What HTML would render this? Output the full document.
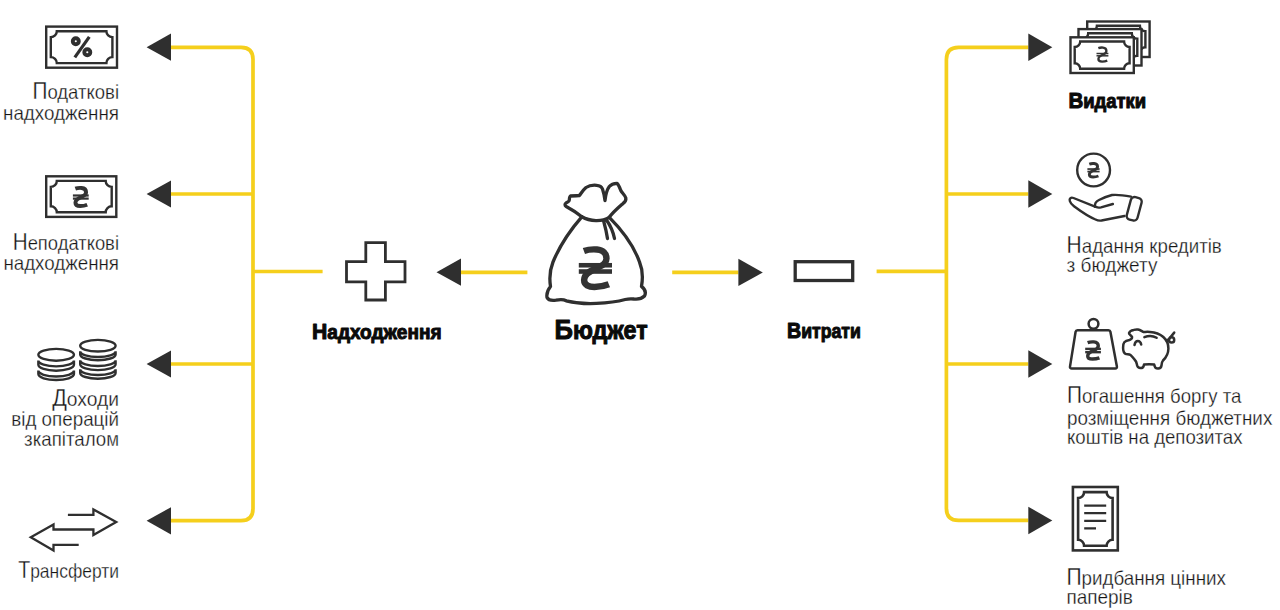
<!DOCTYPE html>
<html><head><meta charset="utf-8">
<style>
html,body{margin:0;padding:0;background:#fff;width:1280px;height:610px;overflow:hidden}
svg{display:block}
.t{font-family:"Liberation Sans",sans-serif;font-size:21px;fill:#141414;stroke:#fff;stroke-width:0.3}
.b{font-family:"Liberation Sans",sans-serif;font-weight:700;fill:#0a0a0a;stroke:#0a0a0a;stroke-width:1.0;paint-order:stroke;stroke-linejoin:round}
</style></head><body>
<svg width="1280" height="610" viewBox="0 0 1280 610">
<g fill="none" stroke="#f5cf1c" stroke-width="3.7">
<path d="M171,47.3 H241 Q253,47.3 253,59.3 V508.5 Q253,520.7 241,520.7 H171"/>
<path d="M171,194 H253 M171,364 H253 M253,271.5 H322.6"/>
<path d="M461,272.3 H527.4 M672.2,272.3 H738.4"/>
<path d="M1028.3,47.3 H958.5 Q946.4,47.3 946.4,59.5 V508.2 Q946.4,520.4 958.6,520.4 H1028.3"/>
<path d="M946.4,194 H1028.3 M946.4,364 H1028.3 M876.6,271.3 H946.4"/>
</g>
<g fill="#2f2f2f"><path d="M146.6,47.2 L171,33.6 L171,60.800000000000004 Z"/><path d="M146.6,194 L171,180.4 L171,207.6 Z"/><path d="M146.6,364 L171,350.4 L171,377.6 Z"/><path d="M146.6,520.8 L171,507.19999999999993 L171,534.4 Z"/><path d="M436.5,272.2 L461,258.59999999999997 L461,285.8 Z"/><path d="M762.8,272.4 L738.4,258.79999999999995 L738.4,286.0 Z"/><path d="M1052.3,47.3 L1028.3,33.5 L1028.3,61.099999999999994 Z"/><path d="M1052.3,194 L1028.3,180.2 L1028.3,207.8 Z"/><path d="M1052.3,364 L1028.3,350.2 L1028.3,377.8 Z"/><path d="M1052.3,520.5 L1028.3,506.7 L1028.3,534.3 Z"/></g>
<g fill="none" stroke="#2f2f2f" stroke-width="2.4"><rect x="46.2" y="26.6" width="70.8" height="41.1"/>
<path fill="none" d="M56.8,31.2 H106.4 A6,6 0 0 0 112.4,37.2 V57.1 A6,6 0 0 0 106.4,63.1 H56.8 A6,6 0 0 0 50.8,57.1 V37.2 A6,6 0 0 0 56.8,31.2 Z"/>
<rect x="46.2" y="176.3" width="70.1" height="40.6"/>
<path fill="none" d="M56.8,180.9 H105.7 A6,6 0 0 0 111.7,186.9 V206.3 A6,6 0 0 0 105.7,212.3 H56.8 A6,6 0 0 0 50.8,206.3 V186.9 A6,6 0 0 0 56.8,180.9 Z"/>
</g>
<g fill="none" stroke="#2f2f2f" stroke-width="3.9">
<circle cx="75.8" cy="41.3" r="3.0"/>
<circle cx="87.3" cy="52.3" r="3.0"/>
<path d="M89.3,36.8 L74.8,57.4" stroke-width="3.2"/>
</g>
<path fill="none" stroke="#333" stroke-width="3.9" d="M75.33,188.67 C77.28,187.95 79.66,187.81 81.56,187.95 C84.42,188.19 86.08,189.88 86.08,192.29 C86.08,194.46 83.94,195.91 81.56,196.87 C78.22,198.32 75.43,199.77 75.43,202.68 C75.43,205.09 77.64,206.00 80.33,206.00 C82.70,206.00 85.22,205.49 87.20,204.69"/><rect fill="#333" x="72.90" y="194.40" width="15.80" height="2.20"/><rect fill="#333" x="72.90" y="197.50" width="15.80" height="2.20"/><g fill="none" stroke="#2f2f2f" stroke-width="2.4"><ellipse cx="56.15" cy="354.8" rx="17.8" ry="5.9"/><path d="M38.35,360.5 A17.8,5.9 0 0 0 73.95,360.5 M38.35,364.8 A17.8,5.9 0 0 0 73.95,364.8 M38.35,360.5 V364.8 M73.95,360.5 V364.8"/><path d="M38.35,370.6 A17.8,5.9 0 0 0 73.95,370.6 M38.35,374.1 A17.8,5.9 0 0 0 73.95,374.1 M38.35,370.6 V374.1 M73.95,370.6 V374.1"/><ellipse cx="97.9" cy="345.7" rx="17.7" ry="5.8"/><path d="M80.20,351.2 A17.7,5.8 0 0 0 115.60,351.2 M80.20,354.4 A17.7,5.8 0 0 0 115.60,354.4 M80.20,351.2 V354.4 M115.60,351.2 V354.4"/><path d="M80.20,360.2 A17.7,5.8 0 0 0 115.60,360.2 M80.20,364.3 A17.7,5.8 0 0 0 115.60,364.3 M80.20,360.2 V364.3 M115.60,360.2 V364.3"/><path d="M80.20,369.2 A17.7,5.8 0 0 0 115.60,369.2 M80.20,372.9 A17.7,5.8 0 0 0 115.60,372.9 M80.20,369.2 V372.9 M115.60,369.2 V372.9"/></g>
<path fill="none" stroke="#2f2f2f" stroke-width="2.3" stroke-linejoin="miter" d="M78.7,544.9 H53.5 V550.4 L30.8,537.2 L53.5,524.5 V529.5 H93.4 V535 L116.2,522 L93.4,509.4 V514.8 H67.9"/>
<path fill="none" stroke="#2f2f2f" stroke-width="2.8" d="M365.8,242.6 H385.4 V261.7 H405 V281.9 H385.4 V300 H365.8 V281.9 H346.5 V261.7 H365.8 Z"/>
<rect x="795.2" y="261.7" width="57.5" height="18.8" fill="none" stroke="#2f2f2f" stroke-width="3.3"/>
<g fill="none" stroke="#2f2f2f" stroke-width="3.3" stroke-linejoin="round" stroke-linecap="round">
<path d="M581.8,216.8 C577,213 570,208.5 566.2,206.5 C564.5,205.5 564.8,203.8 566,203 C568,202 569.2,201.5 569.3,200 C569.4,198.5 569.5,196.5 570.5,196 C573,195.7 577,195.8 579.2,195.7 C581,193.5 583,190 586,187.5 C589,185.5 593,185 596.5,185.3 C599.5,185.5 601.5,186.5 602.5,189 C603.5,192 604.5,196.5 605,200.5 C605.5,196 607,189.5 609.3,186.5 C611,184.5 614,183.5 617,183.4 C618.5,184.5 619.5,187 620.8,190.5 C622,193 625,195 625.8,198 C626.2,200 625,202 623.1,203.4 C619,207 613,212 609.3,217.3"/>
<path d="M581.8,216.8 C590,221.5 602,222 609.3,217.3"/>
<path d="M603.5,220.5 C605,226 606.5,232 607.5,238.5 M606.5,220 C610,225 613,231 614.5,238.5"/>
<path d="M581.8,216.8 C572,228 560,245 553,262 C549,272 549.5,280 550.5,286.5 C548,289.5 546.3,293 547,297.5 C548.5,300.5 552,300.8 556,300.2 C559,299.5 563,299 566.2,300.8 C575,303 588,303.8 596.4,303.4 C606,303 618,301.5 625.2,299.5 C628,298.8 631,298.6 634,299 C638,299.4 642,298.5 644.5,296 C646,293 645.5,289.5 641.5,286.4 C643,278 642,268 639.5,262 C636,252 628,236 609.3,217.3"/>
</g>
<path fill="none" stroke="#333" stroke-width="6.4" d="M583.91,251.00 C588.00,249.49 593.01,249.20 596.99,249.49 C603.00,249.99 606.49,253.50 606.49,258.50 C606.49,263.00 602.01,266.01 596.99,268.01 C589.99,271.01 584.11,274.01 584.11,280.06 C584.11,285.06 588.76,286.94 594.40,286.94 C599.38,286.94 604.70,285.90 608.85,284.23"/><rect fill="#333" x="578.80" y="262.96" width="33.20" height="4.59"/><rect fill="#333" x="578.80" y="269.22" width="33.20" height="4.59"/><g fill="#fff" stroke="#2f2f2f" stroke-width="2.4">
<rect x="1087.2" y="21.5" width="62.4" height="35.5"/>
<path fill="none" d="M1096.9,25.7 H1139.9 A5.5,5.5 0 0 0 1145.4,31.2 V47.3 A5.5,5.5 0 0 0 1139.9,52.8 H1096.9 A5.5,5.5 0 0 0 1091.4,47.3 V31.2 A5.5,5.5 0 0 0 1096.9,25.7 Z"/>
<rect x="1078.5" y="29.1" width="63.0" height="36.4"/>
<path fill="none" d="M1088.2,33.3 H1131.8 A5.5,5.5 0 0 0 1137.3,38.8 V55.8 A5.5,5.5 0 0 0 1131.8,61.3 H1088.2 A5.5,5.5 0 0 0 1082.7,55.8 V38.8 A5.5,5.5 0 0 0 1088.2,33.3 Z"/>
<rect x="1070.5" y="37.3" width="63.3" height="35.7"/>
<path fill="none" d="M1080.2,41.5 H1124.1 A5.5,5.5 0 0 0 1129.6,47.0 V63.3 A5.5,5.5 0 0 0 1124.1,68.8 H1080.2 A5.5,5.5 0 0 0 1074.7,63.3 V47.0 A5.5,5.5 0 0 0 1080.2,41.5 Z"/>
</g>
<path fill="none" stroke="#333" stroke-width="2.3" d="M1098.33,48.12 C1099.80,47.55 1101.59,47.44 1103.02,47.55 C1105.18,47.74 1106.42,49.06 1106.42,50.94 C1106.42,52.64 1104.82,53.77 1103.02,54.52 C1100.51,55.65 1098.40,56.78 1098.40,59.06 C1098.40,60.94 1100.07,61.65 1102.09,61.65 C1103.88,61.65 1105.78,61.26 1107.27,60.63"/><rect fill="#333" x="1096.50" y="52.76" width="11.90" height="1.50"/><rect fill="#333" x="1096.50" y="55.06" width="11.90" height="1.50"/><g fill="none" stroke="#2f2f2f" stroke-width="2.4" stroke-linejoin="round" stroke-linecap="round">
<circle cx="1093.6" cy="170" r="16.4"/>
<path d="M1095,206.7 L1073.5,198 C1071,197 1069,198.5 1069.8,201 C1070.5,203.5 1072,204.8 1074,206.3 C1081,211.5 1089,217 1095.5,219.5 C1097.5,220.5 1099.5,220.8 1101.5,220.5 L1124.5,216"/>
<path d="M1095,206.7 C1094.5,203.5 1096,201.5 1099,200 C1103,198 1108,196 1112,195 C1118,194.5 1125,195.5 1131,196.6"/>
<path d="M1096,206.9 C1097.5,207.7 1099,207.8 1101,207.3 L1112.9,204"/>
<rect x="-5.55" y="-11.6" width="11.1" height="23.2" rx="3.8" transform="translate(1134.2,208.8) rotate(15)"/>
</g>
<path fill="none" stroke="#333" stroke-width="2.9" d="M1089.28,164.04 C1090.78,163.50 1092.62,163.40 1094.09,163.50 C1096.29,163.69 1097.57,164.94 1097.57,166.75 C1097.57,168.37 1095.93,169.44 1094.09,170.16 C1091.51,171.25 1089.35,172.32 1089.35,174.50 C1089.35,176.30 1091.06,176.97 1093.13,176.97 C1094.96,176.97 1096.92,176.60 1098.44,176.00"/><rect fill="#333" x="1087.40" y="168.20" width="12.20" height="1.70"/><rect fill="#333" x="1087.40" y="170.70" width="12.20" height="1.70"/><g fill="none" stroke="#2f2f2f" stroke-width="2.5" stroke-linejoin="round">
<circle cx="1093.5" cy="323.8" r="4.9"/>
<path d="M1077.5,330.2 H1108.5 C1109.5,330.2 1110.2,330.8 1110.4,331.8 L1116.9,366.6 C1117.1,367.8 1116.5,368.6 1115.3,368.6 H1071.7 C1070.5,368.6 1069.8,367.8 1070,366.6 L1075.6,331.8 C1075.8,330.8 1076.5,330.2 1077.5,330.2 Z"/>
</g>
<path fill="none" stroke="#333" stroke-width="3.4" d="M1087.62,342.57 C1089.55,341.88 1091.92,341.75 1093.80,341.88 C1096.65,342.11 1098.29,343.71 1098.29,346.01 C1098.29,348.07 1096.17,349.44 1093.80,350.36 C1090.49,351.74 1087.71,353.11 1087.71,355.88 C1087.71,358.17 1089.91,359.03 1092.58,359.03 C1094.93,359.03 1097.45,358.55 1099.41,357.79"/><rect fill="#333" x="1085.20" y="347.68" width="15.70" height="2.40"/><rect fill="#333" x="1085.20" y="350.98" width="15.70" height="2.40"/><g fill="none" stroke="#2f2f2f" stroke-width="2.5" stroke-linejoin="round" stroke-linecap="round">
<path d="M1133.7,329.9 C1131.5,330.3 1129.5,331.3 1129,333.1 C1128.8,334.5 1131.5,335.5 1132,336.8 C1132.3,338.2 1131,339.5 1129.5,340 C1127.5,340.3 1125.5,340.9 1124.3,342.3 C1123,343.8 1123.1,346 1123.1,348 C1123.1,350.5 1123.4,352.8 1125.5,353.8 C1127,354.5 1129,354 1130.5,355 C1132,356 1133,357.8 1134.5,359.5 C1135.8,360.8 1136.5,362 1136.8,364 C1137,366 1137.5,368 1140,368.1 C1142,368.2 1143.5,367.6 1143.8,365.5 L1144,364.6 C1147.5,364.2 1151,364.2 1154.2,364.6 L1154.8,366.5 C1155.2,368.2 1156.5,368.6 1158.2,368.5 C1160.5,368.4 1161.2,367.5 1161.5,365.5 C1161.7,363.5 1161.8,361.8 1163,360.5 C1166,357.5 1168.4,353 1168.4,348.4 C1168.4,339.5 1161,332.5 1150,331.9 C1147.5,331.8 1145,331.9 1143.2,331.9 C1141.5,331 1140,329.8 1138,329.5 C1136.5,329.3 1135,329.5 1133.7,329.9 Z"/>
<path d="M1144.4,337.2 C1148,335.6 1153,335.6 1156.6,337.8"/>
<path d="M1134.5,344.9 C1135,342.3 1136.3,341 1137.8,341 C1139.5,341 1140.8,342.5 1141.2,344.5"/>
<circle cx="1171.6" cy="339.9" r="2.6"/>
<path d="M1166.6,340.3 L1169.1,339.2 M1170.2,337.6 L1174.2,332.6"/>
</g>
<g fill="none" stroke="#2f2f2f" stroke-width="2.6">
<rect x="1072.9" y="487" width="44.9" height="63.4"/>
<path d="M1084.1,492.1 H1106.6 A6,6 0 0 0 1112.6,498.1 V539.8 A6,6 0 0 0 1106.6,545.8 H1084.1 A6,6 0 0 0 1078.1,539.8 V498.1 A6,6 0 0 0 1084.1,492.1 Z"/>
<path d="M1084.2,505.6 H1106.2 M1084.2,513.2 H1106.2 M1084.2,520.9 H1106.2 M1084.2,528.3 H1096" stroke-width="2.3"/>
</g>
<text class="t" x="119" y="99" text-anchor="end" textLength="86.5" lengthAdjust="spacingAndGlyphs"><tspan font-size="23.6">П</tspan>одаткові</text>
<text class="t" x="119" y="120" text-anchor="end" textLength="116.0" lengthAdjust="spacingAndGlyphs">надходження</text>
<text class="t" x="119" y="249.6" text-anchor="end" textLength="106.3" lengthAdjust="spacingAndGlyphs"><tspan font-size="23.6">Н</tspan>еподаткові</text>
<text class="t" x="119" y="270.3" text-anchor="end" textLength="115.6" lengthAdjust="spacingAndGlyphs">надходження</text>
<text class="t" x="119" y="405.7" text-anchor="end" textLength="66.8" lengthAdjust="spacingAndGlyphs"><tspan font-size="23.6">Д</tspan>оходи</text>
<text class="t" x="119" y="425.8" text-anchor="end" textLength="107.7" lengthAdjust="spacingAndGlyphs">від операцій</text>
<text class="t" x="119" y="446" text-anchor="end" textLength="94.9" lengthAdjust="spacingAndGlyphs">зкапіталом</text>
<text class="t" x="119" y="577.5" text-anchor="end" textLength="100.8" lengthAdjust="spacingAndGlyphs"><tspan font-size="23.6">Т</tspan>рансферти</text>
<text class="t" x="1066.6000000000001" y="252.8" textLength="155.2" lengthAdjust="spacingAndGlyphs"><tspan font-size="23.6">Н</tspan>адання кредитів</text>
<text class="t" x="1066.6000000000001" y="272.3" textLength="90.9" lengthAdjust="spacingAndGlyphs">з бюджету</text>
<text class="t" x="1067.0" y="402.9" textLength="174.3" lengthAdjust="spacingAndGlyphs"><tspan font-size="23.6">П</tspan>огашення боргу та</text>
<text class="t" x="1067.0" y="424.7" textLength="205.3" lengthAdjust="spacingAndGlyphs">розміщення бюджетних</text>
<text class="t" x="1067.0" y="444.2" textLength="175.5" lengthAdjust="spacingAndGlyphs">коштів на депозитах</text>
<text class="t" x="1066.4" y="585" textLength="159.5" lengthAdjust="spacingAndGlyphs"><tspan font-size="23.6">П</tspan>ридбання цінних</text>
<text class="t" x="1066.4" y="604.4" textLength="66.5" lengthAdjust="spacingAndGlyphs">паперів</text>
<text class="b" x="312" y="338.6" font-size="22" textLength="129.5" lengthAdjust="spacingAndGlyphs"><tspan font-size="21.8">Н</tspan><tspan font-size="19.6">адходження</tspan></text>
<text class="b" x="554.6" y="338.8" font-size="27.5" textLength="93" lengthAdjust="spacingAndGlyphs"><tspan font-size="27.5">Б</tspan><tspan font-size="25">юджет</tspan></text>
<text class="b" x="787" y="337.9" font-size="22" textLength="73.9" lengthAdjust="spacingAndGlyphs"><tspan font-size="21.8">В</tspan><tspan font-size="19.6">итрати</tspan></text>
<text class="b" x="1068.4" y="108.2" font-size="22" textLength="77.7" lengthAdjust="spacingAndGlyphs"><tspan font-size="21.8">В</tspan><tspan font-size="19.6">идатки</tspan></text>
</svg>
</body></html>
